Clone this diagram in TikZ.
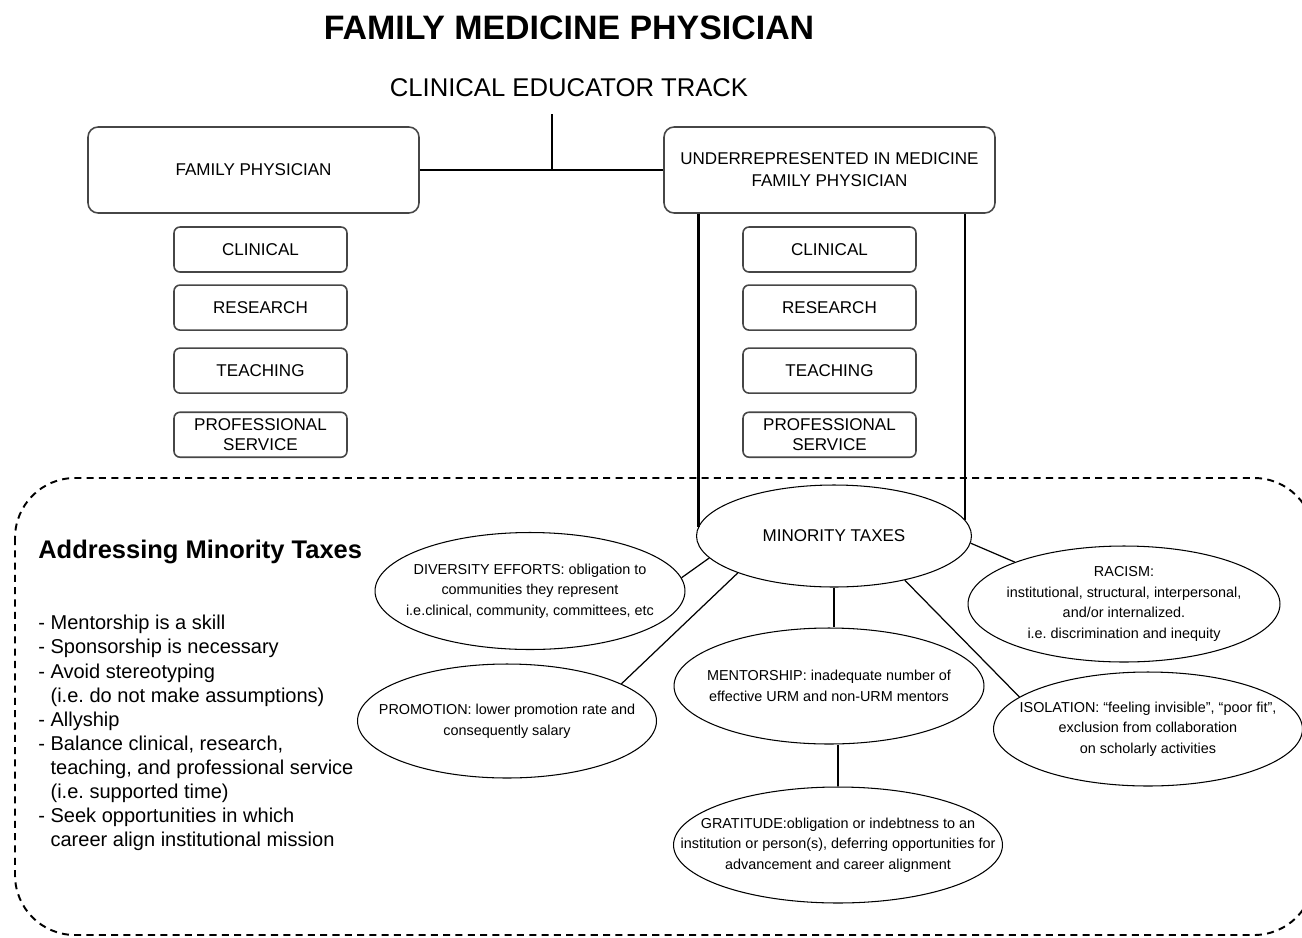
\documentclass[tikz,border=0pt]{standalone}
\usepackage{fontspec}
\setmainfont{Liberation Sans}
\usepackage{tikz}
\usetikzlibrary{positioning,shapes.geometric}
\definecolor{boxline}{RGB}{70,70,70}
\frenchspacing

\begin{document}
\begin{tikzpicture}[x=0.02cm, y=-0.02cm, every node/.style={font=\fontsize{9.7}{11.3}\selectfont}]
  \tikzstyle{role}=[draw=boxline, line width=0.9pt, rounded corners=0.2cm, minimum width=6.62cm, minimum height=1.72cm, align=center, inner sep=0pt, font=\fontsize{9.7}{12.5}\selectfont]
  \tikzstyle{duty}=[draw=boxline, line width=0.9pt, rounded corners=0.12cm, minimum width=3.46cm, minimum height=0.9cm, align=center, inner sep=0pt]
  \tikzstyle{tax}=[draw, ellipse, line width=0.6pt, inner xsep=-1.6cm, inner ysep=-1cm, align=center, font=\fontsize{8.2}{11.7}\selectfont]
  \tikzstyle{link}=[line width=0.7pt]
  \tikzstyle{bar}=[line width=1.4pt]
  \useasboundingbox (0,0) rectangle (1302,937);
  \node[font=\fontsize{19.3}{23}\selectfont\bfseries] (title) at (569,28) {FAMILY MEDICINE PHYSICIAN};
  \node[font=\fontsize{14.6}{17}\selectfont] (track) at (569,88) {CLINICAL EDUCATOR TRACK};
  \node[role] (fp) at (253.5,170) {FAMILY PHYSICIAN};
  \node[role] (urm) at (829.5,170) {UNDERREPRESENTED IN MEDICINE\\FAMILY PHYSICIAN};
  \coordinate (stem) at (552,114);
  \draw[bar] (fp.east) -- (urm.west);
  \draw[bar] (stem) -- (stem |- fp.east);

  \node[duty] (lclin) at (260.5,249.5) {CLINICAL};
  \node[duty, below=0.23cm of lclin] (lres) {RESEARCH};
  \node[duty, below=0.33cm of lres] (lteach) {TEACHING};
  \node[duty, below=0.35cm of lteach] (lserv) {PROFESSIONAL\\SERVICE};
  \node[duty] (rclin) at (829.5,249.5) {CLINICAL};
  \node[duty, below=0.23cm of rclin] (rres) {RESEARCH};
  \node[duty, below=0.33cm of rres] (rteach) {TEACHING};
  \node[duty, below=0.35cm of rteach] (rserv) {PROFESSIONAL\\SERVICE};

  \draw[line width=1.1pt, dash pattern=on 4pt off 3pt, rounded corners=1.2cm] (15,478) rectangle (1314,935);

  \node[anchor=west, inner sep=0pt, font=\fontsize{14.5}{17}\selectfont\bfseries] (remedy) at (38,552) {Addressing Minority Taxes};
  \node[anchor=west, inner sep=0pt, align=left, font=\fontsize{11.4}{13.7}\selectfont] (steps) at (38,733) {- Mentorship is a skill\\- Sponsorship is necessary\\- Avoid stereotyping\\\phantom{- }(i.e. do not make assumptions)\\- Allyship\\- Balance clinical, research,\\\phantom{- }teaching, and professional service\\\phantom{- }(i.e. supported time)\\- Seek opportunities in which\\\phantom{- }career align institutional mission};

  \node[tax, font=\fontsize{9.7}{12}\selectfont, minimum width=5.5cm, minimum height=2.04cm] (mt) at (834,536) {MINORITY TAXES};
  \node[tax, minimum width=6.2cm, minimum height=2.34cm] (div) at (530,591) {DIVERSITY EFFORTS: obligation to\\communities they represent\\i.e.clinical, community, committees, etc};
  \node[tax, minimum width=5.98cm, minimum height=2.28cm] (promo) at (507,721) {PROMOTION: lower promotion rate and\\consequently salary};
  \node[tax, minimum width=6.2cm, minimum height=2.32cm] (ment) at (829,686) {MENTORSHIP: inadequate number of\\effective URM and non-URM mentors};
  \node[tax, minimum width=6.24cm, minimum height=2.32cm] (racism) at (1124,604) {RACISM:\\institutional, structural, interpersonal,\\and/or internalized.\\i.e. discrimination and inequity};
  \node[tax, minimum width=6.18cm, minimum height=2.28cm] (iso) at (1148,729) {ISOLATION: ``feeling invisible'', ``poor fit'',\\exclusion from collaboration\\on scholarly activities};
  \node[tax, minimum width=6.58cm, minimum height=2.32cm] (grat) at (838,845) {GRATITUDE:obligation or indebtness to an\\institution or person(s), deferring opportunities for\\advancement and career alignment};

  \draw[bar] (mt.176 |- urm.south) -- (mt.176);
  \draw[bar] (mt.7 |- urm.south) -- (mt.7);
  \draw[link] (mt.190) -- (div.5);
  \draw[link] (mt.201) -- (promo.18);
  \draw[link] (mt.south) -- (mt.south |- ment.north);
  \draw[link] (grat.north |- ment.south) -- (grat.north);
  \draw[link] (mt.-3) -- (racism.159);
  \draw[link] (mt.-32) -- (iso.166);
\end{tikzpicture}
\end{document}
